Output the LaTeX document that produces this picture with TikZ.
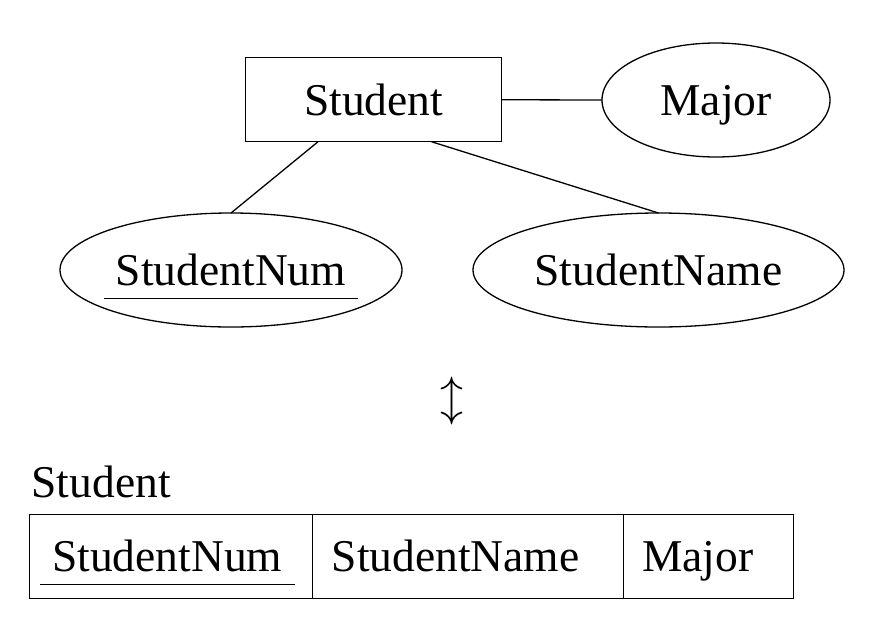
\documentclass[tikz,border=0pt]{standalone}
\usepackage{fontspec}
\setmainfont{Liberation Serif}
\usetikzlibrary{positioning,shapes.geometric}

% key attribute: text with a long rule below it
\newcommand{\keyattr}[1]{\setbox0\hbox{#1}%
  \rlap{\kern-0.27em\raisebox{-0.29em}[0pt][0pt]{\rule{\dimexpr\wd0+0.54em\relax}{1.3pt}}}\box0}

\begin{document}
\begin{tikzpicture}[
  x=1pt, y=1pt,
  font=\fontsize{45.5}{54}\selectfont,
  line width=1.3pt,
  ent/.style={draw, rectangle, inner sep=0pt, outer sep=0pt,
    minimum width=256pt, minimum height=84pt},
  attr/.style={draw, ellipse, inner sep=0pt, outer sep=0pt,
    minimum height=114pt, text depth=0pt},
  cell/.style={draw, rectangle, inner xsep=19pt, inner ysep=0pt, outer sep=0pt,
    minimum height=84pt, align=left, text depth=0pt},
]
\useasboundingbox (0,0) rectangle (872,-630);

% ---------------- E/R diagram ----------------
\node[ent] (student) at (373.75,-99.75) {Student};
\node[attr, minimum width=228pt] (major) at (716,-100) {Major};
\node[attr, minimum width=342pt] (snum) at (231,-270) {\keyattr{StudentNum}};
\node[attr, minimum width=371pt] (sname) at (658.5,-270) {StudentName};

\draw (student.east) -- (major.west);
\draw (student.-143) -- (snum.north);
\draw (student.-36)  -- (sname.north);

% ---------------- correspondence ----------------
\node[font=\normalsize] (conv) at (452,-401) {\scalebox{4.6}{$\updownarrow$}};

% ---------------- relation ----------------
\node[cell, inner xsep=23pt, text width=237.5pt] (cnum) at (171,-556.2) {\keyattr{StudentNum}};
\node[cell, text width=272.5pt, right=0pt of cnum] (cname) {StudentName};
\node[cell, text width=132pt, right=0pt of cname] (cmaj) {Major};

\node[anchor=base west, inner sep=0pt] (rel) at (31,-497) {Student};

\end{tikzpicture}
\end{document}
